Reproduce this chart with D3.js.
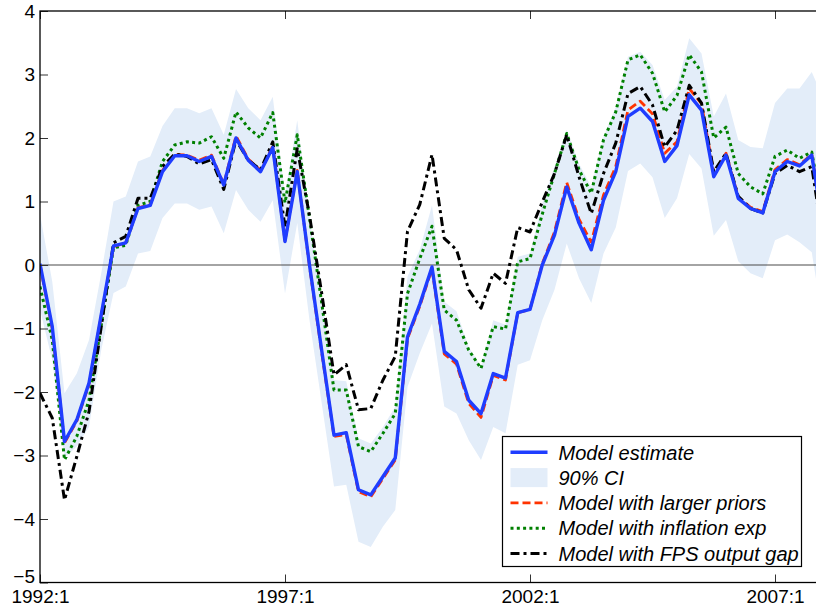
<!DOCTYPE html>
<html>
<head>
<meta charset="utf-8">
<script src="https://cdn.jsdelivr.net/npm/d3@7"></script>
<style>
  body { margin: 0; background: #fff; }
  svg { display: block; overflow: hidden; }
  text { font-family: "Liberation Sans", Arial, sans-serif; }
</style>
</head>
<body>
<svg id="drawing_region"></svg>
<script>
// quarters 1992:1 .. 2008:1 (index 0..64)
const tick_index  = [0, 20, 40, 60];
const tick_labels = ['1992:1', '1997:1', '2002:1', '2007:1'];
const y_ticks     = [-5, -4, -3, -2, -1, 0, 1, 2, 3, 4];

const model_estimate = [
   0.02, -0.97, -2.78, -2.44, -1.86, -0.78,  0.30,  0.35,  0.89,  0.94,
   1.47,  1.72,  1.72,  1.63,  1.71,  1.26,  2.00,  1.65,  1.47,  1.85,
   0.37,  1.47,  0.00, -1.35, -2.68, -2.64, -3.54, -3.62, -3.33, -3.04,
  -1.13, -0.62, -0.03, -1.36, -1.52, -2.13, -2.34, -1.71, -1.78, -0.75,
  -0.70,  0.00,  0.47,  1.23,  0.66,  0.24,  1.02,  1.47,  2.34,  2.47,
   2.26,  1.63,  1.88,  2.68,  2.44,  1.39,  1.73,  1.05,  0.89,  0.82,
   1.47,  1.63,  1.56,  1.73,  0.50
];
const ci_upper = [
   0.80, -0.26, -2.02, -1.71, -1.18, -0.13,  1.00,  1.08,  1.63,  1.71,
   2.19,  2.47,  2.47,  2.39,  2.47,  2.05,  2.77,  2.47,  2.28,  2.65,
   1.10,  2.28,  0.75, -0.55, -1.81, -1.83, -2.73, -2.81, -2.55, -2.23,
  -0.18,  0.24,  0.94, -0.58, -0.73, -1.29, -1.60, -0.87, -0.94,  0.13,
   0.18,  0.97,  1.55,  2.13,  1.60,  1.23,  2.02,  2.49,  3.28,  3.36,
   3.15,  2.60,  2.81,  3.57,  3.33,  2.34,  2.70,  1.97,  1.86,  1.84,
   2.55,  2.78,  2.78,  3.04,  2.60
];
const ci_lower = [
  -0.70, -1.50, -3.04, -2.86, -2.55, -1.34, -0.44, -0.34,  0.18,  0.22,
   0.74,  0.97,  0.97,  0.87,  0.92,  0.50,  1.18,  0.87,  0.68,  1.02,
  -0.45,  0.66, -0.87, -2.18, -3.49, -3.46, -4.36, -4.44, -4.12, -3.86,
  -1.92, -1.39, -0.92, -2.23, -2.34, -2.76, -3.07, -2.55, -2.65, -1.57,
  -1.50, -0.87, -0.39,  0.34, -0.21, -0.60,  0.18,  0.59,  1.48,  1.60,
   1.38,  0.74,  1.05,  1.75,  1.52,  0.46,  0.71,  0.06, -0.13, -0.21,
   0.39,  0.48,  0.36,  0.20, -1.00
];
const larger_priors = [
   0.00, -1.00, -2.80, -2.46, -1.88, -0.80,  0.29,  0.35,  0.90,  0.95,
   1.49,  1.74,  1.73,  1.65,  1.73,  1.27,  2.03,  1.67,  1.49,  1.87,
   0.38,  1.49, -0.02, -1.38, -2.70, -2.67, -3.57, -3.65, -3.36, -3.07,
  -1.16, -0.65, -0.06, -1.40, -1.56, -2.18, -2.40, -1.74, -1.81, -0.75,
  -0.70,  0.02,  0.52,  1.30,  0.72,  0.36,  1.10,  1.55,  2.44,  2.58,
   2.38,  1.76,  1.94,  2.78,  2.54,  1.45,  1.76,  1.07,  0.91,  0.84,
   1.50,  1.66,  1.58,  1.74,  0.50
];
const inflation_exp = [
  -0.34, -1.18, -3.07, -2.70, -2.13, -0.95,  0.27,  0.31,  0.94,  1.00,
   1.63,  1.89,  1.94,  1.92,  2.02,  1.68,  2.41,  2.16,  2.00,  2.40,
   0.98,  2.05,  0.74, -0.60, -1.97, -1.97, -2.86, -2.94, -2.65, -2.34,
  -0.45,  0.10,  0.61, -0.71, -0.87, -1.34, -1.63, -0.97, -1.01,  0.05,
   0.10,  0.80,  1.44,  2.07,  1.50,  1.13,  1.97,  2.41,  3.23,  3.31,
   3.02,  2.41,  2.67,  3.31,  3.04,  2.00,  2.17,  1.44,  1.23,  1.12,
   1.71,  1.81,  1.68,  1.78,  0.70
];
const fps_output_gap = [
  -2.02, -2.41, -3.70, -3.02, -2.31, -0.97,  0.35,  0.45,  1.05,  1.05,
   1.55,  1.75,  1.71,  1.59,  1.66,  1.19,  1.97,  1.65,  1.50,  1.94,
   0.60,  1.83,  0.78, -0.45, -1.73, -1.57, -2.28, -2.26, -1.81, -1.44,
   0.53,  0.95,  1.74,  0.42,  0.24, -0.39, -0.68, -0.13, -0.29,  0.59,
   0.52,  0.99,  1.44,  2.05,  1.39,  0.81,  1.44,  1.92,  2.70,  2.81,
   2.52,  1.86,  2.12,  2.83,  2.55,  1.47,  1.76,  1.08,  0.89,  0.82,
   1.44,  1.57,  1.47,  1.55,  0.30
];

const series = [
  { name: 'Model with inflation exp',  values: inflation_exp,  color: '#008000', width: 3.0, dash: '3,3.3' },
  { name: 'Model with larger priors',  values: larger_priors,  color: '#ff3300', width: 2.8, dash: '8,4' },
  { name: 'Model with FPS output gap', values: fps_output_gap, color: '#000000', width: 3.0, dash: '9,4,3,4' },
  { name: 'Model estimate',            values: model_estimate, color: '#1f3dff', width: 3.4, dash: null }
];

const legend_items = [
  { label: 'Model estimate',            type: 'line',  color: '#1f3dff', width: 3.4, dash: null },
  { label: '90% CI',                    type: 'patch', color: '#e3edf9' },
  { label: 'Model with larger priors',  type: 'line',  color: '#ff3300', width: 2.8, dash: '8,4' },
  { label: 'Model with inflation exp',  type: 'line',  color: '#008000', width: 3.0, dash: '3,3.3' },
  { label: 'Model with FPS output gap', type: 'line',  color: '#000000', width: 3.0, dash: '9,4,3,4' }
];

class LineChart {

  constructor( config ) {
    this.config = config;
    this.init();
  }

  init() {
    let self = this;
    const m = self.config.margin;

    self.svg = d3.select( self.config.parent )
      .attr('width', self.config.width)
      .attr('height', self.config.height);

    self.inner_width  = self.config.plot_width;
    self.inner_height = self.config.height - m.top - m.bottom;

    self.chart = self.svg.append('g')
      .attr('transform', `translate(${m.left}, ${m.top})`);

    self.xscale = d3.scaleLinear()
      .domain([0, 64])
      .range([0, self.inner_width]);

    self.yscale = d3.scaleLinear()
      .domain([-5, 4])
      .range([self.inner_height, 0]);

    self.chart.append('clipPath').attr('id', 'plot_clip')
      .append('rect')
      .attr('width', self.inner_width)
      .attr('height', self.inner_height);

    self.plot = self.chart.append('g').attr('clip-path', 'url(#plot_clip)');
  }

  render() {
    let self = this;
    const idx = d3.range(model_estimate.length);

    // confidence band
    const area = d3.area()
      .x(i => self.xscale(i))
      .y0(i => self.yscale(ci_lower[i]))
      .y1(i => self.yscale(ci_upper[i]));

    self.plot.append('path')
      .datum(idx)
      .attr('d', area)
      .attr('fill', '#e3edf9');

    // zero line
    self.plot.append('line')
      .attr('x1', 0).attr('x2', self.inner_width)
      .attr('y1', self.yscale(0)).attr('y2', self.yscale(0))
      .attr('stroke', '#4a4a4a')
      .attr('stroke-width', 1.2);

    const line = d3.line()
      .x((d, i) => self.xscale(i))
      .y(d => self.yscale(d));

    self.plot.selectAll('path.series')
      .data(series)
      .enter()
      .append('path')
      .attr('class', 'series')
      .attr('d', d => line(d.values))
      .attr('fill', 'none')
      .attr('stroke', d => d.color)
      .attr('stroke-width', d => d.width)
      .attr('stroke-dasharray', d => d.dash)
      .attr('stroke-linejoin', 'round');

    // axes: ticks point inward, MATLAB style
    const font = '19px';
    const left = self.chart.append('g')
      .call( d3.axisLeft(self.yscale).tickValues(y_ticks).tickSizeInner(-8).tickSizeOuter(0).tickPadding(5) );
    const right = self.chart.append('g')
      .attr('transform', `translate(${self.inner_width}, 0)`)
      .call( d3.axisRight(self.yscale).tickValues(y_ticks).tickSizeInner(-8).tickSizeOuter(0).tickFormat('') );
    const bottom = self.chart.append('g')
      .attr('transform', `translate(0, ${self.inner_height})`)
      .call( d3.axisBottom(self.xscale).tickValues(tick_index)
        .tickFormat((d, i) => tick_labels[i]).tickSizeInner(-8).tickSizeOuter(0).tickPadding(7) );
    const top = self.chart.append('g')
      .call( d3.axisTop(self.xscale).tickValues(tick_index).tickSizeInner(-8).tickSizeOuter(0).tickFormat('') );

    [left, right, bottom, top].forEach(g => {
      g.select('.domain').remove();
      g.selectAll('.tick line').attr('stroke', '#333').attr('stroke-width', 1);
      g.selectAll('.tick text')
        .style('font-size', font)
        .style('font-family', '"Liberation Sans", Arial, sans-serif')
        .attr('fill', '#000');
    });

    // the lowest y label sits right on the corner; lift it a touch
    left.selectAll('.tick text').filter(d => d === -5).attr('dy', '0em');

    // frame
    self.chart.append('rect')
      .attr('x', 0).attr('y', 0)
      .attr('width', self.inner_width)
      .attr('height', self.inner_height)
      .attr('fill', 'none')
      .attr('stroke', '#000')
      .attr('stroke-width', 1.3);

    self.legend();
  }

  legend() {
    let self = this;
    const lg = self.svg.append('g').attr('transform', 'translate(502.5, 436.5)');

    lg.append('rect')
      .attr('width', 299).attr('height', 130)
      .attr('fill', '#fff')
      .attr('stroke', '#000')
      .attr('stroke-width', 1.2);

    const row_y = i => 15.8 + i * 25.3;

    const rows = lg.selectAll('g.item')
      .data(legend_items)
      .enter()
      .append('g')
      .attr('class', 'item')
      .attr('transform', (d, i) => `translate(0, ${row_y(i)})`);

    rows.filter(d => d.type === 'line')
      .append('line')
      .attr('x1', 8).attr('x2', 45)
      .attr('stroke', d => d.color)
      .attr('stroke-width', d => d.width)
      .attr('stroke-dasharray', d => d.dash);

    rows.filter(d => d.type === 'patch')
      .append('rect')
      .attr('x', 8).attr('y', -9.5)
      .attr('width', 37).attr('height', 19)
      .attr('fill', d => d.color);

    rows.append('text')
      .attr('x', 56)
      .attr('dy', '0.36em')
      .style('font-size', '20px')
      .style('font-style', 'italic')
      .text(d => d.label);
  }
}

const chart = new LineChart({
  parent: '#drawing_region',
  width: 816,
  height: 609,
  plot_width: 784,
  margin: { top: 11, right: 0, bottom: 26.5, left: 40 }
});
chart.render();
</script>
</body>
</html>
